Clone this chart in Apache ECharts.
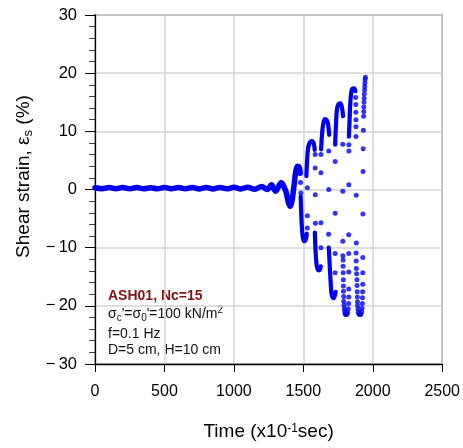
<!DOCTYPE html>
<html>
<head>
<meta charset="utf-8">
<script src="https://cdn.jsdelivr.net/npm/echarts@6/dist/echarts.min.js"></script>
<style>
html,body{margin:0;padding:0;background:#fff;}
#chart{width:463px;height:448px;}
</style>
</head>
<body>
<div id="chart"></div>
<script>
// ---- data (time in 0.1 s units, shear strain in %) ----
const xTicks = [0, 500, 1000, 1500, 2000, 2500];
const yTicks = [-30, -20, -10, 0, 10, 20, 30];

// pre-liquefaction trace, read at wiggle extremes
const traceT = [0,50,100,150,200,250,300,350,400,450,500,550,600,650,700,750,800,850,900,950,1000,1050,1100,1150,1200,1240,1270,1300,1340,1375,1392,1405,1418,1432,1445,1457,1470,1478];
const traceS = [0.3,0.15,0.35,0.15,0.35,0.12,0.33,0.12,0.32,0.12,0.33,0.13,0.35,0.12,0.35,0.1,0.35,0.1,0.35,0.12,0.38,0.1,0.4,0.05,0.5,0.0,0.8,-0.3,1.15,-0.4,-2.2,-2.9,-2.0,0.5,3.0,4.0,3.8,2.8];

// dense strokes of the large cycles: [time, strain]
const troughN1 = [[1481,-1.2],[1484,-3.5],[1489,-6.2],[1496,-8.2],[1506,-8.9],[1517,-8.6],[1525,-7.6]];
const peakH2   = [[1522,2.3],[1527,5.0],[1535,7.2],[1547,8.1],[1562,8.3],[1575,7.9],[1582,6.8]];
const troughN2 = [[1583,-7.4],[1587,-10.0],[1594,-12.6],[1603,-13.7],[1615,-13.9],[1626,-13.2]];
const peakH3   = [[1628,6.9],[1635,9.6],[1645,11.5],[1657,12.1],[1669,11.9],[1679,11.1],[1686,9.4]];
const troughN3 = [[1683,-10.0],[1690,-13.0],[1697,-16.0],[1705,-18.2],[1718,-18.7],[1733,-17.6]];
const peakH4   = [[1729,7.7],[1735,11.0],[1742,13.8],[1753,14.7],[1766,14.8],[1777,14.2],[1786,12.6]];
const peakH5   = [[1828,9.1],[1834,12.5],[1840,15.5],[1850,17.2],[1864,17.4],[1876,16.9]];

// individually visible samples: [time, strain]
const sparseDots = [
  [1480,1.2],[1482,-0.6],
  [1529,-6.6],[1529,-4.5],[1529,0.3],
  [1585,6.0],[1585,3.7],[1586,-0.9],[1587,-5.8],
  [1627,-10.0],[1627,-5.7],[1627,2.9],[1627,6.0],
  [1683,6.6],[1683,0.0],[1682,-7.7],
  [1729,-14.3],[1729,-11.0],[1729,-4.1],[1729,4.8],
  [1784,7.8],[1784,-0.3],[1784,-8.9],
  [1785,-11.4],[1786,-12.1],[1786,-13.2],[1787,-14.3],[1788,-15.5],[1788,-16.6],[1789,-17.5],[1790,-18.4],[1791,-19.2],[1793,-19.9],[1795,-20.5],[1798,-21.0],[1801,-21.3],[1805,-21.5],[1810,-21.5],[1815,-21.4],[1819,-21.1],[1823,-20.5],[1826,-19.6],[1827,-18.5],[1827,-17.1],[1827,-14.2],[1827,-11.0],
  [1827,-7.8],[1828,0.8],[1828,6.6],[1828,7.7],
  [1877,15.8],[1878,14.6],[1878,13.3],[1879,12.0],[1879,10.8],[1879,9.1],[1881,-1.0],[1882,-9.2],
  [1880,-10.9],[1881,-12.3],[1882,-13.6],[1884,-14.5],[1886,-15.5],[1887,-16.5],[1888,-17.6],[1889,-18.5],[1890,-19.3],[1891,-20.0],[1893,-20.6],[1896,-21.1],[1900,-21.4],[1905,-21.5],[1910,-21.5],[1915,-21.4],[1920,-21.0],[1923,-20.4],[1925,-19.6],[1926,-18.6],[1927,-17.6],[1928,-16.3],[1928,-14.3],[1928,-11.7],
  [1929,-4.2],[1930,3.1],[1931,7.0],[1932,10.2],
  [1934,12.6],[1935,13.4],[1936,14.2],[1937,15.0],[1938,15.7],[1939,16.4],[1941,17.1],[1942,17.7],[1943,18.3],[1945,18.9],[1947,19.3]
];

// ---- chart ----
const FONT = '"Liberation Sans", Arial, Helvetica, sans-serif';
const BLUE = '#0000f0';

const strokes = [troughN1, peakH2, troughN2, peakH3, troughN3, peakH4, peakH5];

const series = [
  {
    type: 'line', smooth: 0.35, showSymbol: false, silent: true,
    data: traceT.map((t, i) => [t, traceS[i]]),
    lineStyle: { color: BLUE, width: 5.5, cap: 'round', join: 'round' }
  }
];
strokes.forEach(s => series.push({
  type: 'line', smooth: 0.4, showSymbol: false, silent: true, data: s,
  lineStyle: { color: BLUE, width: 4.2, cap: 'round', join: 'round' }
}));
series.push({
  type: 'scatter', data: sparseDots, symbolSize: 5, silent: true,
  itemStyle: { color: BLUE }
});

const chart = echarts.init(document.getElementById('chart'), null, { renderer: 'canvas' });
chart.setOption({
  animation: false,
  grid: { left: 95, right: 20, top: 15, bottom: 83, show: true, borderColor: '#6a6a6a', borderWidth: 1.5 },
  xAxis: {
    type: 'value', min: xTicks[0], max: xTicks[xTicks.length - 1], interval: 500,
    name: 'Time (x10{sup|-1}sec)', nameLocation: 'middle', nameGap: 57,
    nameTextStyle: {
      fontFamily: FONT, fontSize: 19, color: '#000', lineHeight: 22,
      rich: { sup: { fontFamily: FONT, fontSize: 12, lineHeight: 12, padding: [0, 0, 7, 0], color: '#000' } }
    },
    axisLine: { onZero: false, lineStyle: { color: '#000', width: 1.3 } },
    axisTick: { inside: false, length: 8, lineStyle: { color: '#000', width: 1 } },
    axisLabel: { fontFamily: FONT, fontSize: 16, color: '#000', margin: 20, formatter: v => String(v) },
    splitLine: { show: true, lineStyle: { color: '#d3d3d3', width: 1.5 } }
  },
  yAxis: {
    type: 'value', min: yTicks[0], max: yTicks[yTicks.length - 1], interval: 10,
    name: 'Shear strain, ε{sub|s} (%)', nameLocation: 'middle', nameGap: 60,
    nameTextStyle: {
      fontFamily: FONT, fontSize: 19, color: '#000', lineHeight: 22, padding: [0, 0, 0, 26],
      rich: { sub: { fontFamily: FONT, fontSize: 13, lineHeight: 13, padding: [10, 0, 0, 0], color: '#000' } }
    },
    axisLine: { onZero: false, lineStyle: { color: '#000', width: 1.3 } },
    axisTick: { inside: false, length: 10, lineStyle: { color: '#000', width: 1 } },
    minorTick: { show: true, splitNumber: 5, length: 6, lineStyle: { color: '#444', width: 1 } },
    axisLabel: { fontFamily: FONT, fontSize: 16.5, color: '#000', margin: 18,
      formatter: v => (v < 0 ? '\u2212\u2009' + Math.abs(v) : String(v)) },
    splitLine: { show: true, lineStyle: { color: '#d3d3d3', width: 1.5 } }
  },
  graphic: [
    { type: 'text', x: 108, y: 296, silent: true,
      style: { text: 'ASH01, Nc=15', fontFamily: FONT, fontSize: 14, fontWeight: 'bold', fill: '#7f1414', align: 'left', verticalAlign: 'middle' } },
    { type: 'text', x: 108, y: 314, silent: true,
      style: { text: 'σ{sub|c}\'=σ{sub|0}\'=100 kN/m{sup|2}', fontFamily: FONT, fontSize: 14, fill: '#111', align: 'left', verticalAlign: 'middle', lineHeight: 16,
        rich: {
          sub: { fontFamily: FONT, fontSize: 10, lineHeight: 10, padding: [8, 0, 0, 0], fill: '#111' },
          sup: { fontFamily: FONT, fontSize: 10, lineHeight: 10, padding: [0, 0, 7, 0], fill: '#111' }
        } } },
    { type: 'text', x: 108, y: 334, silent: true,
      style: { text: 'f=0.1 Hz', fontFamily: FONT, fontSize: 14, fill: '#111', align: 'left', verticalAlign: 'middle' } },
    { type: 'text', x: 108, y: 350, silent: true,
      style: { text: 'D=5 cm, H=10 cm', fontFamily: FONT, fontSize: 14, fill: '#111', align: 'left', verticalAlign: 'middle' } }
  ],
  series: series
});
</script>
</body>
</html>
